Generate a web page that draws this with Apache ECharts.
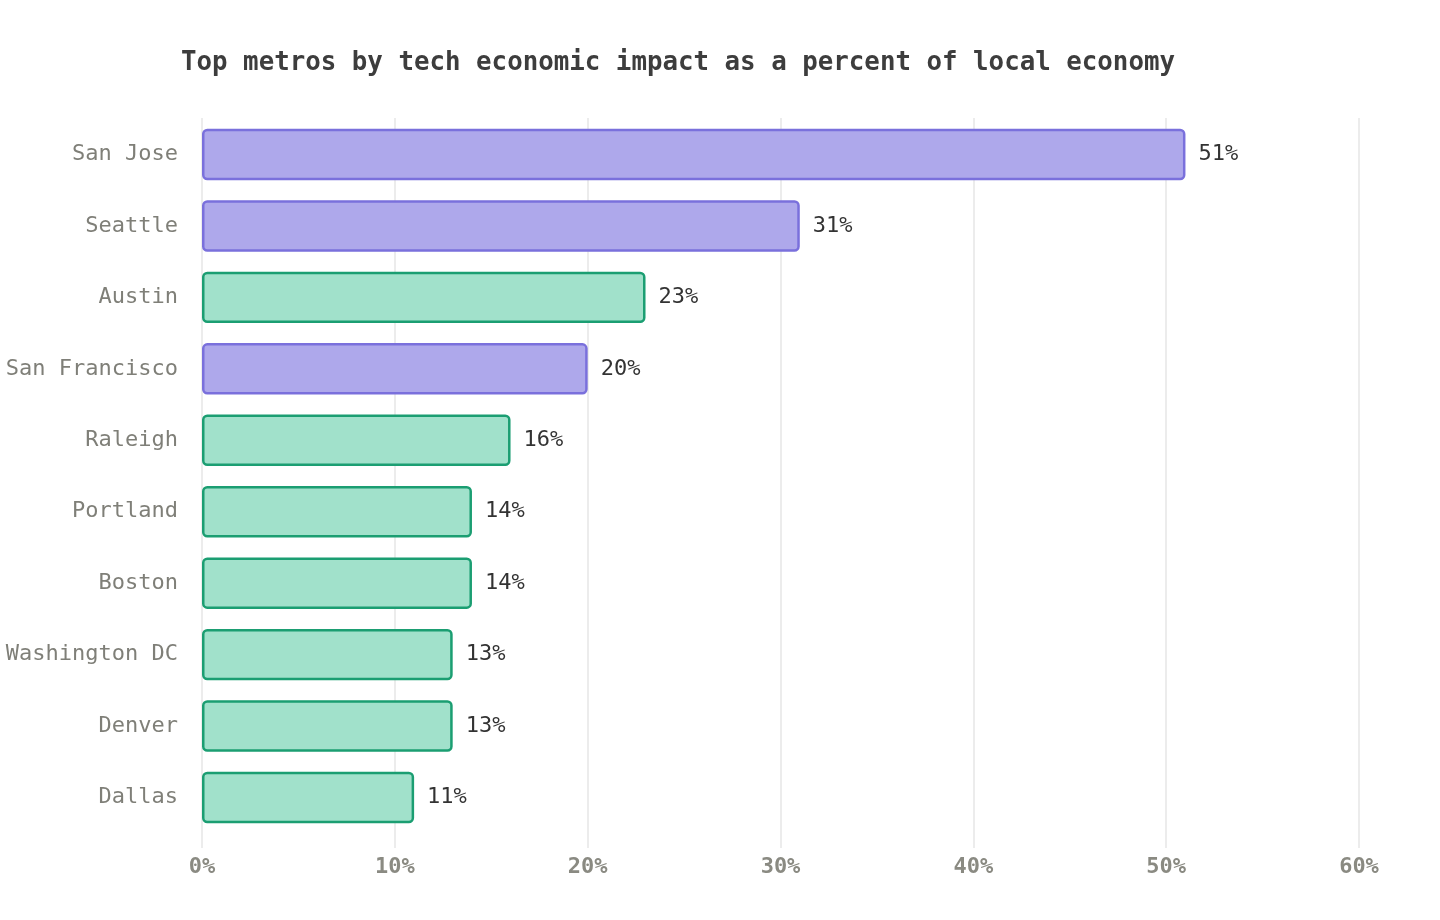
<!DOCTYPE html>
<html>
<head>
<meta charset="utf-8">
<style>html,body{margin:0;padding:0;background:#fff;}#chart{width:1440px;height:920px;}</style>
<script src="https://cdn.jsdelivr.net/npm/echarts@6/dist/echarts.min.js"></script>
</head>
<body>
<div id="chart"></div>
<script>
const categories = ['San Jose','Seattle','Austin','San Francisco','Raleigh','Portland','Boston','Washington DC','Denver','Dallas'];
const values = [51, 31, 23, 20, 16, 14, 14, 13, 13, 11];
const groups = ['purple','purple','green','purple','green','green','green','green','green','green'];
const xTicks = [0, 10, 20, 30, 40, 50, 60];

const FONT = '"DejaVu Sans Mono", monospace';
const palette = {
  purple: { fill: '#aea8eb', border: '#7a70dc' },
  green: { fill: '#a1e1cb', border: '#1b9e72' }
};

const chart = echarts.init(document.getElementById('chart'));
chart.setOption({
  animation: false,
  title: {
    text: 'Top metros by tech economic impact as a percent of local economy',
    left: 176, top: 45,
    textStyle: { fontFamily: FONT, fontSize: 25.8, fontWeight: 'bold', color: '#3d3d3d' }
  },
  grid: [
    { left: 202, right: 81, top: 118, bottom: 72 },
    { left: 202, right: 81, top: 118.8, height: 714.4 }
  ],
  xAxis: [
    {
      gridIndex: 0, type: 'value', min: xTicks[0], max: xTicks[xTicks.length - 1], interval: 10,
      axisLine: { show: false }, axisTick: { show: false },
      splitLine: { show: true, lineStyle: { color: '#e6e6e6', width: 1.5 } },
      axisLabel: { formatter: v => v + '%', fontFamily: FONT, fontSize: 22, fontWeight: 'bold', color: '#8a8a82', margin: 8 }
    },
    {
      gridIndex: 1, type: 'value', min: xTicks[0], max: xTicks[xTicks.length - 1],
      show: false
    }
  ],
  yAxis: [
    { gridIndex: 0, type: 'value', show: false, min: 0, max: 1 },
    {
      gridIndex: 1, type: 'category', data: categories, inverse: true,
      axisLine: { show: false }, axisTick: { show: false }, splitLine: { show: false },
      axisLabel: { fontFamily: FONT, fontSize: 22, color: '#7f7f78', margin: 24 }
    }
  ],
  series: [{
    type: 'bar', xAxisIndex: 1, yAxisIndex: 1,
    barCategoryGap: '28%',
    data: values.map((v, i) => ({
      value: v,
      itemStyle: { color: palette[groups[i]].fill, borderColor: palette[groups[i]].border, borderWidth: 2.5, borderRadius: 4 }
    })),
    label: {
      show: true, position: 'right', distance: 13,
      formatter: p => p.value + '%',
      fontFamily: FONT, fontSize: 22, color: '#333333'
    }
  }]
});
</script>
</body>
</html>
